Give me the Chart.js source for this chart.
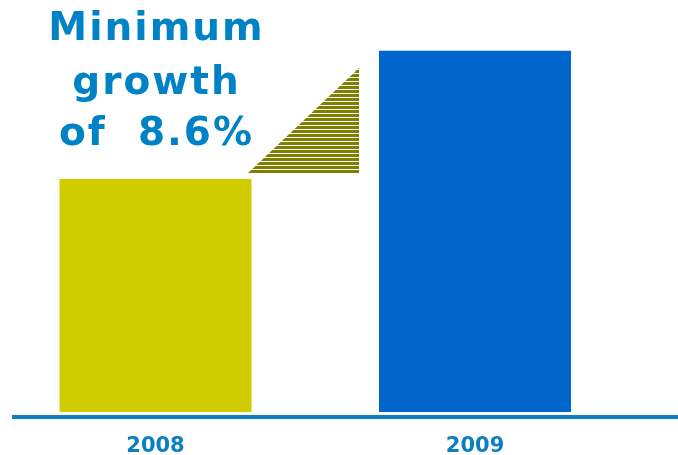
<!DOCTYPE html>
<html lang="en">
<head>
    <meta charset="UTF-8">
    <title>Minimum growth</title>
    <style>
        html, body { margin: 0; padding: 0; background: #fff; }
        .wrap { position: relative; width: 678px; height: 455px; }
    </style>
</head>
<body>
<div class="wrap">
    <canvas id="chart"></canvas>
</div>

<script src="https://cdn.jsdelivr.net/npm/chart.js@4.4.1/dist/chart.umd.min.js"></script>
<script>
  const years = ['2008', '2009'];
  const values = [100, 155];
  const barColors = ['#cfcc00', '#0066cc'];
  const headline = ['Minimum', 'growth', 'of  8.6%'];

  const BLUE = '#0a80c3';

  // headline text + hatched triangle between the two bars
  const growthMarker = {
    id: 'growthMarker',
    afterDatasetsDraw(chart) {
      const ctx = chart.ctx;
      const bars = chart.getDatasetMeta(0).data;
      const b1 = bars[0], b2 = bars[1];

      const left = Math.round(b1.x + b1.width / 2 - 4);
      const bottom = Math.round(b1.y - 6);
      const right = Math.round(b2.x - b2.width / 2 - 20);
      const top = Math.round(b2.y + 17);

      ctx.save();
      ctx.beginPath();
      ctx.moveTo(left, bottom);
      ctx.lineTo(right, bottom);
      ctx.lineTo(right, top);
      ctx.closePath();
      ctx.clip();
      ctx.fillStyle = '#808000';
      for (let y = bottom; y > top - 4; y -= 4) {
        ctx.fillRect(left, y - 3, right - left, 3);
      }
      ctx.restore();

      ctx.save();
      ctx.fillStyle = '#0083c6';
      ctx.font = 'bold 39px "DejaVu Sans", Verdana, sans-serif';
      ctx.textAlign = 'center';
      ctx.textBaseline = 'alphabetic';
      ctx.letterSpacing = '2px';
      const baselines = [40, 94, 145];
      headline.forEach((line, i) => {
        ctx.fillText(line, b1.x + 1, baselines[i]);
      });
      ctx.restore();
    }
  };

  new Chart(document.getElementById('chart'), {
    type: 'bar',
    data: {
      datasets: [{
        data: values.map((v, i) => ({x: i, y: v})),
        backgroundColor: barColors,
        borderWidth: 0,
        barPercentage: 0.601,
        categoryPercentage: 1
      }]
    },
    options: {
      responsive: true,
      maintainAspectRatio: false,
      animation: false,
      layout: { padding: { left: 14, right: 0, top: 0, bottom: 0 } },
      plugins: {
        legend: { display: false },
        tooltip: { enabled: false }
      },
      scales: {
        x: {
          type: 'linear',
          offset: false,
          min: -0.4429,
          max: 1.6353,
          grid: { display: false, drawTicks: false },
          border: { display: true, color: BLUE, width: 4 },
          afterBuildTicks(scale) {
            scale.ticks = years.map((_, i) => ({ value: i }));
          },
          afterFit(scale) { scale.height = 38; },
          ticks: {
            color: BLUE,
            padding: 17,
            font: { family: '"DejaVu Sans", Verdana, sans-serif', size: 21, weight: 'bold' },
            callback: (v) => years[v]
          }
        },
        y: {
          display: false,
          min: -2.15,
          max: 176.8
        }
      }
    },
    plugins: [growthMarker]
  });
</script>
</body>
</html>
